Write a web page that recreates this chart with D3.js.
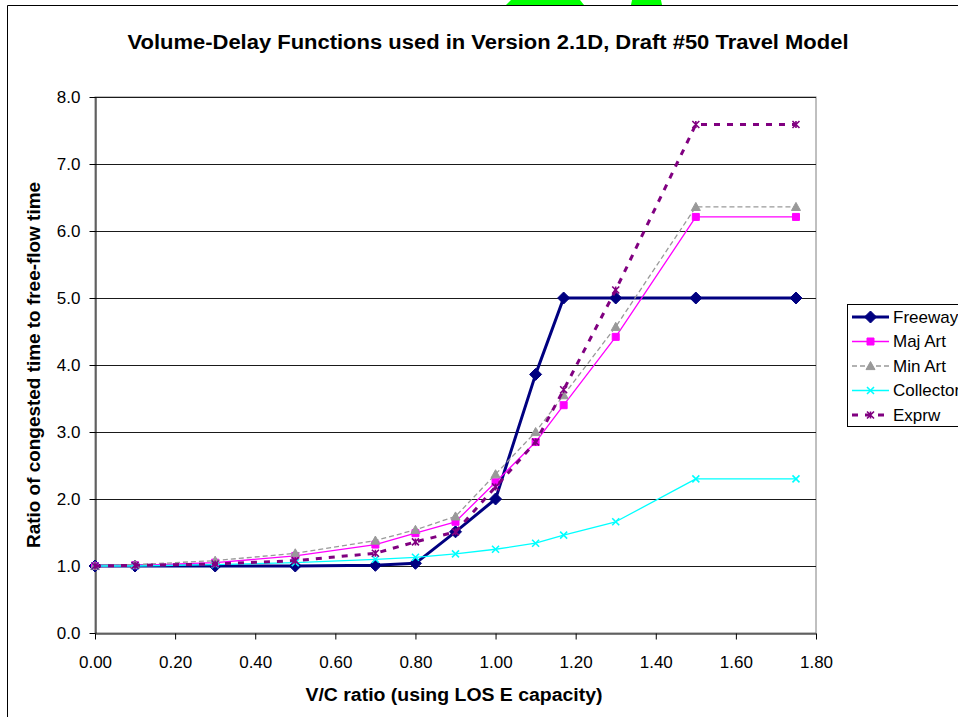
<!DOCTYPE html>
<html lang="en">
<head>
  <meta charset="UTF-8" />
  <title>Volume-Delay Functions</title>
  <script src="https://d3js.org/d3.v7.min.js"></script>
  <style>
    body { margin: 0; padding: 0; background: #fff; overflow: hidden; }
    svg { display: block; font-family: Arial, "Liberation Sans", sans-serif; }
  </style>
</head>
<body>
  <svg id="chart" width="958" height="717"></svg>
  <script>
    // V/C ratio points
    const vcRatios = [0, 0.1, 0.3, 0.5, 0.7, 0.8, 0.9, 1.0, 1.1, 1.17, 1.3, 1.5, 1.75];

    const freeway   = [1.0, 1.0, 1.0, 1.0, 1.01, 1.04, 1.51, 2.0, 3.86, 5.0, 5.0, 5.0, 5.0];
    const majArt    = [1.0, 1.01, 1.05, 1.15, 1.32, 1.49, 1.66, 2.25, 2.85, 3.40, 4.42, 6.21, 6.21];
    const minArt    = [1.0, 1.02, 1.08, 1.19, 1.38, 1.54, 1.74, 2.37, 3.0, 3.55, 4.57, 6.36, 6.36];
    const collector = [1.0, 1.0, 1.02, 1.05, 1.10, 1.13, 1.18, 1.25, 1.34, 1.46, 1.66, 2.30, 2.30];
    const exprw     = [1.0, 1.01, 1.03, 1.08, 1.19, 1.36, 1.51, 2.18, 2.85, 3.63, 5.12, 7.59, 7.59];

    const seriesNames = ["Freeway", "Maj Art", "Min Art", "Collector", "Exprw"];
    const xTicks = [0, 0.2, 0.4, 0.6, 0.8, 1.0, 1.2, 1.4, 1.6, 1.8];
    const yTicks = [0, 1, 2, 3, 4, 5, 6, 7, 8];

    const styles = {
      "Freeway":   { color: "#000080", width: 3,   dash: null,  marker: "diamond", size: 6 },
      "Maj Art":   { color: "#ff00ff", width: 1.3, dash: null,  marker: "square",  size: 3.5 },
      "Min Art":   { color: "#999999", width: 1.3, dash: "5,3", marker: "triangle", size: 4.5 },
      "Collector": { color: "#00ffff", width: 1.3, dash: null,  marker: "x",       size: 3.5 },
      "Exprw":     { color: "#800080", width: 3,   dash: "6,7", marker: "star",    size: 3.5 }
    };

    const values = [freeway, majArt, minArt, collector, exprw];
    const series = seriesNames.map((name, i) => ({
      name: name,
      points: vcRatios.map((x, j) => ({ x: x, y: values[i][j] }))
    }));

    const svg = d3.select("#chart");

    // stray green shape above chart frame
    svg.append("polygon").attr("points", "506,5 511,0 580,0 584,5").attr("fill", "#00ff00");
    svg.append("polygon").attr("points", "631,5 632,0 661,0 662,5").attr("fill", "#00ff00");

    // chart frame
    svg.append("path").attr("d", "M7.5,720 V5.5 H960")
      .attr("fill", "none").attr("stroke", "#000").attr("stroke-width", 1);

    const x = d3.scaleLinear().domain([0, 1.8]).range([95, 816]);
    const y = d3.scaleLinear().domain([0, 8]).range([633, 97]);

    // plot area
    svg.append("rect").attr("x", 95).attr("y", 97).attr("width", 721).attr("height", 536)
      .attr("fill", "#fff").attr("stroke", "#808080").attr("stroke-width", 1);

    // gridlines
    svg.append("g").selectAll("line").data(yTicks.slice(1)).enter().append("line")
      .attr("x1", 95).attr("x2", 816)
      .attr("y1", d => Math.round(y(d)) + 0.5).attr("y2", d => Math.round(y(d)) + 0.5)
      .attr("stroke", "#1a1a1a").attr("stroke-width", 1);

    // axes
    const xAxis = svg.append("g").attr("transform", "translate(0,633.5)")
      .call(d3.axisBottom(x).tickValues(xTicks).tickFormat(d3.format(".2f")).tickSizeInner(6).tickSizeOuter(0));
    const yAxis = svg.append("g").attr("transform", "translate(95.5,0)")
      .call(d3.axisLeft(y).tickValues(yTicks).tickFormat(d3.format(".1f")).tickSizeInner(6).tickSizeOuter(0));
    [xAxis, yAxis].forEach(a => {
      a.select(".domain").attr("stroke", "#000");
      a.selectAll(".tick line").attr("stroke", "#000");
      a.selectAll("text").attr("fill", "#000").style("font-size", "17px")
        .style("font-family", "Arial, 'Liberation Sans', sans-serif");
    });
    xAxis.selectAll("text").attr("dy", "0.71em").attr("y", 22);
    yAxis.selectAll("text").attr("x", -15);

    // markers
    function markerPath(type, s) {
      if (type === "diamond") return `M0,${-s}L${s},0L0,${s}L${-s},0Z`;
      if (type === "square") return `M${-s},${-s}H${s}V${s}H${-s}Z`;
      if (type === "triangle") return `M0,${-s}L${s},${s * 0.8}L${-s},${s * 0.8}Z`;
      if (type === "x") return `M${-s},${-s}L${s},${s}M${-s},${s}L${s},${-s}`;
      return `M${-s},${-s}L${s},${s}M${-s},${s}L${s},${-s}M0,${-s}V${s}`;
    }

    const line = d3.line().x(d => x(d.x)).y(d => y(d.y));

    series.forEach(s => {
      const st = styles[s.name];
      const g = svg.append("g");
      g.append("path").datum(s.points).attr("d", line)
        .attr("fill", "none").attr("stroke", st.color).attr("stroke-width", st.width)
        .attr("stroke-dasharray", st.dash).attr("stroke-linejoin", "round");
      const filled = st.marker !== "x" && st.marker !== "star";
      g.selectAll("path.m").data(s.points).enter().append("path").attr("class", "m")
        .attr("transform", d => `translate(${x(d.x)},${y(d.y)})`)
        .attr("d", markerPath(st.marker, st.size))
        .attr("fill", filled ? st.color : "none")
        .attr("stroke", st.color).attr("stroke-width", filled ? 1 : 1.6);
    });

    // titles
    svg.append("text").attr("x", 488).attr("y", 49).attr("text-anchor", "middle")
      .attr("textLength", 721).attr("lengthAdjust", "spacingAndGlyphs")
      .style("font-size", "20px").style("font-weight", "bold")
      .text("Volume-Delay Functions used in Version 2.1D, Draft #50 Travel Model");
    svg.append("text").attr("x", 454).attr("y", 701).attr("text-anchor", "middle")
      .attr("textLength", 297).attr("lengthAdjust", "spacingAndGlyphs")
      .style("font-size", "18px").style("font-weight", "bold")
      .text("V/C ratio (using LOS E capacity)");
    svg.append("text").attr("transform", "translate(40,365) rotate(-90)").attr("text-anchor", "middle")
      .attr("textLength", 366).attr("lengthAdjust", "spacingAndGlyphs")
      .style("font-size", "18px").style("font-weight", "bold")
      .text("Ratio of congested time to free-flow time");

    // legend
    const legend = svg.append("g");
    legend.append("rect").attr("x", 847.5).attr("y", 304.5).attr("width", 130).attr("height", 122)
      .attr("fill", "#fff").attr("stroke", "#000");
    series.forEach((s, i) => {
      const st = styles[s.name];
      const ly = 317 + i * 24.5;
      legend.append("line").attr("x1", 852).attr("x2", 889).attr("y1", ly).attr("y2", ly)
        .attr("stroke", st.color).attr("stroke-width", st.width).attr("stroke-dasharray", st.dash);
      const filled = st.marker !== "x" && st.marker !== "star";
      legend.append("path").attr("transform", `translate(870.5,${ly})`)
        .attr("d", markerPath(st.marker, st.size))
        .attr("fill", filled ? st.color : "none")
        .attr("stroke", st.color).attr("stroke-width", filled ? 1 : 1.6);
      legend.append("text").attr("x", 893).attr("y", ly).attr("dy", "0.35em")
        .style("font-size", "17px").text(s.name);
    });
  </script>
</body>
</html>
